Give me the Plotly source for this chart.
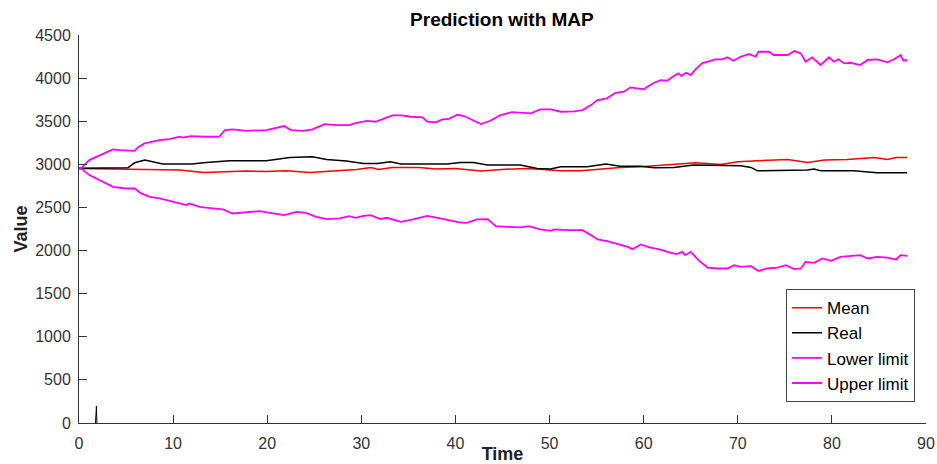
import plotly.graph_objects as go

# ---- data ----
upper_t = [0, 0.2, 1.1, 2.2, 3.6, 4.3, 5.9, 6.25, 6.96, 8.55, 9.6, 10.7, 11.0, 11.9, 13.2, 14.9, 15.5, 16.3,
           17.8, 19.9, 21.3, 21.8, 22.5, 23.8, 24.8, 26.1, 27.3, 28.7, 29.5, 30.6, 31.5, 32.4, 33.3, 34.3,
           35.2, 36.5, 37.0, 37.9, 38.6, 39.3, 40.2, 40.9, 42.0, 42.7, 43.7, 44.8, 46.0, 46.9, 48.0, 49.0,
           50.1, 51.2, 52.6, 53.5, 54.4, 55.1, 56.1, 57.0, 57.9, 58.6, 59.5, 60.0, 60.4, 61.1, 61.8, 62.5,
           63.2, 63.7, 64.0, 64.5, 65.0, 65.5, 66.2, 66.8, 67.6, 68.3, 68.9, 69.5, 70.3, 71.2, 71.9, 72.2,
           73.3, 73.8, 74.7, 75.3, 76.0, 76.7, 77.2, 77.9, 78.8, 79.7, 80.2, 80.7, 81.3, 82.0, 83.0, 83.8,
           84.8, 85.9, 86.6, 87.3, 87.6, 88.0]
upper_v = [2950, 2953, 3049, 3107, 3173, 3165, 3157, 3196, 3243, 3281, 3293, 3320, 3310, 3327, 3320, 3320, 3397, 3405,
           3389, 3397, 3428, 3444, 3397, 3389, 3405, 3467, 3455, 3455, 3482, 3505, 3494, 3528, 3567, 3567,
           3552, 3544, 3494, 3486, 3521, 3528, 3575, 3560, 3505, 3467, 3505, 3571, 3606, 3598, 3591, 3637,
           3637, 3610, 3614, 3629, 3687, 3745, 3765, 3830, 3842, 3893, 3881, 3870, 3900, 3946, 3977, 3970,
           4024, 4055, 4024, 4062, 4035, 4101, 4171, 4190, 4218, 4218, 4241, 4202, 4248, 4279, 4248, 4306,
           4306, 4268, 4268, 4268, 4314, 4287, 4190, 4241, 4152, 4241, 4190, 4218, 4171, 4178, 4152, 4210,
           4218, 4183, 4218, 4268, 4202, 4210]

lower_t = [0, 0.2, 1.1, 2.2, 3.6, 5.0, 5.9, 6.6, 7.5, 8.55, 9.6, 10.7, 11.4, 11.7, 12.8, 14.2, 15.3, 16.3,
           17.8, 19.2, 20.6, 21.8, 23.1, 24.1, 25.2, 26.3, 27.7, 28.7, 29.4, 30.2, 31.0, 32.0, 32.7, 34.2,
           35.6, 37.0, 38.1, 39.1, 40.4, 41.2, 42.3, 43.4, 44.3, 45.5, 46.9, 47.8, 49.0, 50.1, 50.5, 51.9,
           53.5, 54.4, 55.1, 56.1, 57.2, 58.3, 58.8, 59.7, 60.6, 61.8, 62.9, 63.5, 64.1, 64.4, 65.0, 65.9,
           66.8, 67.8, 68.9, 69.6, 70.3, 71.4, 72.2, 73.1, 74.2, 75.1, 76.0, 76.7, 77.2, 78.1, 79.0, 79.9,
           80.9, 82.0, 83.0, 83.8, 84.8, 85.9, 86.8, 87.3, 88.0]
lower_v = [2950, 2953, 2875, 2817, 2739, 2720, 2720, 2663, 2623, 2604, 2577, 2546, 2527, 2546, 2507, 2488, 2477, 2430,
           2442, 2457, 2430, 2411, 2449, 2438, 2391, 2364, 2372, 2399, 2380, 2402, 2411, 2364, 2380, 2333,
           2364, 2403, 2380, 2353, 2326, 2322, 2361, 2364, 2283, 2275, 2268, 2283, 2245, 2229, 2245, 2237,
           2237, 2179, 2129, 2109, 2074, 2043, 2016, 2071, 2036, 2012, 1973, 1958, 1985, 1946, 1985, 1880,
           1803, 1792, 1792, 1830, 1811, 1819, 1764, 1792, 1803, 1830, 1784, 1792, 1869, 1857, 1908, 1880,
           1927, 1935, 1946, 1908, 1927, 1919, 1896, 1946, 1938]

mean_t = [0, 3.6, 5.5, 8.9, 10.7, 13.2, 15.3, 17.8, 19.9, 22.0, 24.5, 27.0, 29.5, 31.0, 31.8, 33.3, 36.1,
          37.9, 40.0, 42.7, 44.9, 47.6, 49.7, 51.2, 53.3, 55.4, 57.5, 59.7, 61.8, 63.9, 65.5, 68.2, 70.0,
          72.1, 75.3, 77.4, 79.2, 81.6, 84.5, 85.9, 86.8, 88.0]
mean_v = [2953, 2945, 2941, 2933, 2933, 2906, 2914, 2922, 2918, 2925, 2906, 2922, 2941, 2964, 2941, 2964, 2964,
          2945, 2953, 2922, 2941, 2953, 2941, 2925, 2925, 2941, 2964, 2971, 2991, 3010, 3018, 2998, 3029,
          3041, 3057, 3022, 3049, 3057, 3080, 3057, 3080, 3080]

real_t = [0, 5.2, 5.9, 7.0, 8.9, 12.0, 13.2, 16.0, 19.9, 22.4, 24.8, 26.3, 28.4, 30.2, 31.7, 33.1, 34.2,
          39.1, 40.5, 41.9, 43.4, 46.9, 48.7, 50.1, 51.2, 54.0, 56.0, 57.5, 59.7, 61.1, 63.2, 65.3, 70.3,
          71.4, 72.1, 77.4, 78.1, 78.8, 82.3, 84.8, 88.0]
real_v = [2955, 2960, 3018, 3049, 3003, 3003, 3018, 3041, 3041, 3080, 3088, 3057, 3038, 3010, 3010, 3029, 3003,
          3003, 3022, 3022, 2991, 2991, 2953, 2945, 2971, 2971, 3003, 2979, 2979, 2960, 2964, 2991, 2983,
          2964, 2925, 2933, 2945, 2925, 2925, 2902, 2902]

spike_t = [1.75, 1.85, 1.9]
spike_v = [0, 197, 0]

x_ticks = [0, 10, 20, 30, 40, 50, 60, 70, 80, 90]
y_ticks = [0, 500, 1000, 1500, 2000, 2500, 3000, 3500, 4000, 4500]

FONT = "Liberation Sans, Arial, Helvetica, sans-serif"
AX = "#333333"

fig = go.Figure()
fig.add_trace(go.Scatter(x=mean_t, y=mean_v, mode="lines", name="Mean",
                         line=dict(color="#ff0000", width=1.5)))
fig.add_trace(go.Scatter(x=real_t, y=real_v, mode="lines", name="Real",
                         line=dict(color="#000000", width=1.5)))
fig.add_trace(go.Scatter(x=lower_t, y=lower_v, mode="lines", name="Lower limit",
                         line=dict(color="#ff00ff", width=1.8)))
fig.add_trace(go.Scatter(x=upper_t, y=upper_v, mode="lines", name="Upper limit",
                         line=dict(color="#ff00ff", width=1.8)))
fig.add_trace(go.Scatter(x=spike_t, y=spike_v, mode="lines", showlegend=False,
                         line=dict(color="#000000", width=1)))

fig.update_layout(
    width=937, height=464,
    margin=dict(l=78.5, r=11, t=35, b=41.3, autoexpand=False),
    plot_bgcolor="white", paper_bgcolor="white",
    font=dict(family=FONT, color=AX, size=16),
    title=dict(text="<b>Prediction with MAP</b>", x=0.5357, xanchor="center",
               y=1 - 19 / 464, yanchor="middle",
               font=dict(family=FONT, size=19, color="#000000")),
    showlegend=True,
    legend=dict(x=0.987, xanchor="right", y=0.345, yanchor="top",
                bgcolor="white", bordercolor="#444444", borderwidth=1,
                font=dict(family=FONT, size=17, color="#000000"),
                tracegroupgap=0, itemwidth=30),
    xaxis=dict(range=[0, 90], tickvals=x_ticks, ticktext=[str(v) for v in x_ticks],
               showline=True, linecolor=AX, linewidth=1, mirror=False, automargin=False,
               ticks="inside", ticklen=8, tickcolor=AX, showgrid=False, zeroline=False,
               tickfont=dict(size=16, color=AX), ticklabelstandoff=6,
               title=dict(text="<b>Time</b>", font=dict(size=18, color="#222222"), standoff=0)),
    yaxis=dict(range=[0, 4500], tickvals=y_ticks, ticktext=[str(v) for v in y_ticks],
               showline=True, linecolor=AX, linewidth=1, mirror=False, automargin=False,
               ticks="inside", ticklen=8, tickcolor=AX, showgrid=False, zeroline=False,
               tickfont=dict(size=16, color=AX), ticklabelstandoff=4,
               title=dict(text="<b>Value</b>", font=dict(size=18, color="#222222"), standoff=2)),
)

fig.write_html("out.html")
